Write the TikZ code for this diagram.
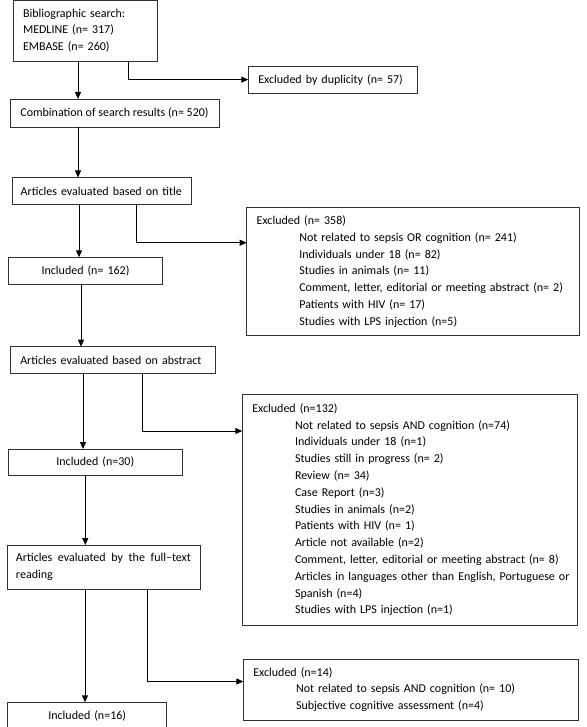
\documentclass[tikz,border=0pt]{standalone}
\usepackage{fontspec}
\setmainfont{Carlito}
\usetikzlibrary{arrows.meta}
\definecolor{boxc}{HTML}{333333}
\begin{document}
\begin{tikzpicture}[x=1pt,y=-1pt,
  box/.style={draw=boxc, line width=0.9pt, anchor=north west, inner xsep=10pt, inner ysep=0pt,
    outer sep=0pt, font=\fontsize{12}{16.8}\selectfont, align=left},
  arr/.style={draw=black, line width=1pt, -{Triangle[length=7pt,width=6pt]}}]
\useasboundingbox (0,0) rectangle (586,727);
\clip (0,0) rectangle (586,727);

% boxes
\node[box, minimum width=144pt, minimum height=60.5pt, text width=124pt] (search) at (13,0.5)
  {\fontsize{12}{16.5}\selectfont Bibliographic search:\\MEDLINE (n= 317)\\EMBASE (n= 260)};
\node[box, minimum width=169.4pt, minimum height=27.3pt, text width=149.4pt] (exdup) at (248.3,66)
  {Excluded by duplicity (n= 57)};
\node[box, inner xsep=7pt, minimum width=209pt, minimum height=28.3pt] (comb) at (10,99)
  {Combination of search results (n= 520)};
\node[box, inner xsep=8.4pt, minimum width=179.4pt, minimum height=27.2pt, text width=162.6pt] (title) at (12.3,177.5)
  {Articles evaluated based on title};
\node[box, align=center, minimum width=153.6pt, minimum height=26.7pt, text width=133.6pt] (inc162) at (8.7,257.3)
  {Included (n= 162)};
\node[box, minimum width=205pt, minimum height=27pt, text width=185pt] (abstract) at (10.3,346.7)
  {Articles evaluated based on abstract};
\node[box, minimum width=332.3pt, minimum height=128.4pt, text width=312.3pt] (ex358) at (246.7,207.3)
  {Excluded (n= 358)\\
   \hspace*{42.6pt}Not related to sepsis OR cognition (n= 241)\\
   \hspace*{42.6pt}Individuals under 18 (n= 82)\\
   \hspace*{42.6pt}Studies in animals (n= 11)\\
   \hspace*{42.6pt}Comment, letter, editorial or meeting abstract (n= 2)\\
   \hspace*{42.6pt}Patients with HIV (n= 17)\\
   \hspace*{42.6pt}Studies with LPS injection (n=5)};
\node[box, minimum width=335.4pt, minimum height=231pt, text width=315.4pt] (ex132) at (242.3,394.3)
  {Excluded (n=132)\\
   \hspace*{42.7pt}Not related to sepsis AND cognition (n=74)\\
   \hspace*{42.7pt}Individuals under 18 (n=1)\\
   \hspace*{42.7pt}Studies still in progress (n= 2)\\
   \hspace*{42.7pt}Review (n= 34)\\
   \hspace*{42.7pt}Case Report (n=3)\\
   \hspace*{42.7pt}Studies in animals (n=2)\\
   \hspace*{42.7pt}Patients with HIV (n= 1)\\
   \hspace*{42.7pt}Article not available (n=2)\\
   \hspace*{42.7pt}Comment, letter, editorial or meeting abstract (n= 8)\\
   \hspace*{42.7pt}\makebox[272pt][s]{Articles in languages other than English, Portuguese or}\\
   \hspace*{42.7pt}Spanish (n=4)\\
   \hspace*{42.7pt}Studies with LPS injection (n=1)};
\node[box, align=center, minimum width=174pt, minimum height=26pt, text width=154pt] (inc30) at (8.3,449)
  {Included (n=30)};
\node[box, align=justify, inner xsep=9pt, minimum width=193pt, minimum height=44.5pt, text width=175pt] (full) at (7,545)
  {\fontsize{12}{17.3}\selectfont Articles evaluated by the full–text\linebreak reading};
\node[box, align=center, minimum width=159pt, minimum height=26.5pt, text width=139pt] (inc16) at (7.7,702.3)
  {Included (n=16)};
\node[box, minimum width=335pt, minimum height=61pt, text width=315pt] (ex14) at (243.3,659)
  {Excluded (n=14)\\
   \hspace*{42.7pt}Not related to sepsis AND cognition (n= 10)\\
   \hspace*{42.7pt}Subjective cognitive assessment (n=4)};

% connector positions
\coordinate (v1) at (78,0);
\coordinate (k1) at (128,79.6);
\coordinate (v2) at (78,0);
\coordinate (v3) at (79,0);
\coordinate (k2) at (136.3,242.7);
\coordinate (v4) at (81,0);
\coordinate (v5) at (83,0);
\coordinate (k3) at (142.7,431);
\coordinate (v6) at (85.3,0);
\coordinate (v7) at (85,0);
\coordinate (k4) at (147,681.5);

% connectors
\draw[arr] (search.south -| v1) -- (comb.north -| v1);
\draw[arr] (search.south -| k1) |- (exdup.west |- k1);
\draw[arr] (comb.south -| v2) -- (title.north -| v2);
\draw[arr] (title.south -| v3) -- (inc162.north -| v3);
\draw[arr] (title.south -| k2) |- (ex358.west |- k2);
\draw[arr] (inc162.south -| v4) -- (abstract.north -| v4);
\draw[arr] (abstract.south -| v5) -- (inc30.north -| v5);
\draw[arr] (abstract.south -| k3) |- (ex132.west |- k3);
\draw[arr] (inc30.south -| v6) -- (full.north -| v6);
\draw[arr] (full.south -| v7) -- (inc16.north -| v7);
\draw[arr] (full.south -| k4) |- (ex14.west |- k4);
\end{tikzpicture}
\end{document}
